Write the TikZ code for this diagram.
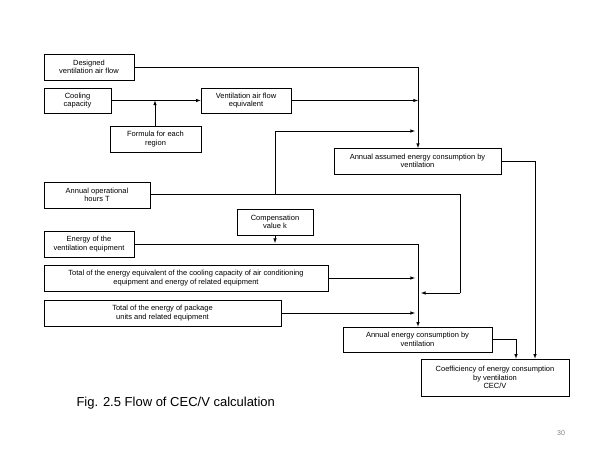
\documentclass[tikz,border=0pt]{standalone}
\usepackage{fontspec}
\setmainfont{Liberation Sans}
\begin{document}
\begin{tikzpicture}[x=1pt,y=-1pt,
  bx/.style={draw,line width=0.8pt,font=\fontsize{7.5}{8.5}\selectfont,align=center,inner sep=0pt},
  ln/.style={line width=0.6pt},
  ar/.style={ln,-latex}]
\useasboundingbox (0,0) rectangle (600,450);
\fill[white] (0,0) rectangle (600,450);
\newcommand\bxat[6]{\node[bx,minimum width=#4-#2,minimum height=#5-#3] (#1) at ({(#2+#4)/2},{(#3+#5)/2}) {#6};}
\bxat{des}{44}{54}{134}{80}{Designed\\ventilation air flow}
\bxat{cool}{44}{88}{111}{113}{Cooling\\capacity}
\bxat{vaf}{201}{88}{291}{113}{Ventilation air flow\\equivalent}
\bxat{form}{110}{126}{201}{152}{Formula for each\\region}
\bxat{aae}{334}{148}{501}{174}{Annual assumed energy consumption by\\ventilation}
\bxat{hrs}{44}{182}{150}{208}{Annual operational\\hours T}
\bxat{comp}{237}{209}{313}{235}{Compensation\\value k}
\bxat{eve}{44}{231}{134}{257}{Energy of the\\ventilation equipment}
\bxat{tee}{44}{265}{328}{291}{Total of the energy equivalent of the cooling capacity of air conditioning\\equipment and energy of related equipment}
\bxat{tpk}{44}{300}{281}{326}{Total of the energy of package\\units and related equipment}
\bxat{aec}{343}{327}{492}{352}{Annual energy consumption by\\ventilation}
\bxat{cec}{421}{359}{569}{396}{Coefficiency of energy consumption\\by ventilation\\CEC/V}
\coordinate (j1) at (275,194);
\draw[ar] (des.east) -| (418,148);
\draw[ar] (vaf.east) -- (418,100.5);
\draw[ar] (cool.east) -- (vaf.west);
\draw[ar] (form.north -| 155,0) -- (155,100.5);
\draw[ln] (hrs.east |- j1) -- (460,194) -- (460,293);
\draw[ar] (460,293) -- (421,293);
\draw[ar] (j1) -- (275,131) -- (415,131);
\draw[ar] (aae.east) -| (cec.north -| 535,0);
\draw[ar] (comp.south) -- (275,243);
\draw[ar] (eve.east |- 0,244) -| (aec.north -| 418,0);
\draw[ar] (tee.east |- 0,278) -- (415,278);
\draw[ar] (tpk.east |- 0,313) -- (415,313);
\draw[ar] (aec.east) -| (cec.north -| 516,0);
\node[anchor=west,font=\fontsize{13}{15}\selectfont] (cap) at (73,403) {Fig. 2.5 Flow of CEC/V calculation};
\node[font=\fontsize{7}{8}\selectfont,text=gray] (pg) at (561,433) {30};
\end{tikzpicture}
\end{document}
